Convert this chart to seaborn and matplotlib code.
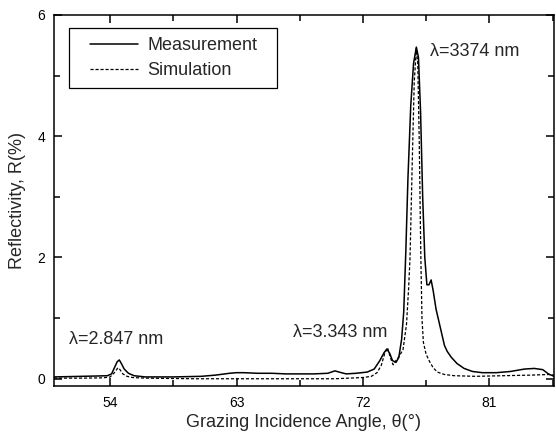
import matplotlib
matplotlib.use("Agg")
import matplotlib.pyplot as plt
import seaborn as sns
import pandas as pd
from matplotlib.ticker import MultipleLocator
from matplotlib.patches import Rectangle

# ---- data ----
meas_angle = [50.0, 51.0, 52.0, 53.0, 53.8, 54.1, 54.3, 54.5, 54.65, 54.8, 55.0, 55.3, 55.7,
              56.5, 57.5, 58.5, 59.5, 60.5, 61.5, 62.5, 63.0, 63.5, 64.5, 65.5, 66.5, 67.5,
              68.5, 69.5, 70.0, 70.3, 70.8, 71.5, 72.3, 72.8, 73.2, 73.5, 73.7, 73.9, 74.1,
              74.35, 74.55, 74.75, 74.9, 75.05, 75.2, 75.4, 75.6, 75.8, 75.95, 76.1, 76.25,
              76.4, 76.55, 76.7, 76.85, 77.0, 77.2, 77.4, 77.6, 77.8, 78.0, 78.3, 78.7, 79.2,
              79.8, 80.5, 81.5, 82.5, 83.5, 84.2, 84.8, 85.2, 85.6]
meas_refl = [0.03, 0.035, 0.04, 0.045, 0.05, 0.08, 0.18, 0.28, 0.31, 0.25, 0.16, 0.09, 0.05,
             0.03, 0.03, 0.03, 0.035, 0.04, 0.06, 0.09, 0.10, 0.10, 0.09, 0.09, 0.08, 0.08,
             0.08, 0.09, 0.13, 0.11, 0.08, 0.09, 0.11, 0.16, 0.30, 0.43, 0.49, 0.42, 0.30,
             0.27, 0.35, 0.65, 1.10, 2.10, 3.30, 4.50, 5.20, 5.47, 5.30, 4.40, 3.00,
             2.00, 1.55, 1.55, 1.63, 1.45, 1.15, 0.95, 0.75, 0.55, 0.45, 0.35, 0.25, 0.17,
             0.12, 0.10, 0.10, 0.12, 0.16, 0.17, 0.15, 0.08, 0.04]

sim_angle = [50.0, 52.0, 53.5, 54.0, 54.3, 54.55, 54.7, 54.9, 55.2, 55.6, 56.5, 60.0, 65.0,
             70.0, 72.0, 72.6, 73.0, 73.3, 73.55, 73.75, 73.95, 74.15, 74.35, 74.6, 74.85,
             75.1, 75.25, 75.35, 75.5, 75.65, 75.8, 75.9, 76.0, 76.12, 76.2, 76.3, 76.5,
             76.75, 77.0, 77.3, 77.8, 78.5, 80.0, 82.0, 84.0, 85.2, 85.6]
sim_refl = [0.01, 0.01, 0.015, 0.03, 0.10, 0.18, 0.15, 0.08, 0.04, 0.02, 0.01, 0.0, 0.0,
            0.0, 0.02, 0.04, 0.10, 0.22, 0.42, 0.51, 0.35, 0.23, 0.30, 0.38, 0.48,
            0.90, 1.50, 2.00, 3.50, 4.90, 5.45, 5.20, 4.00, 2.00, 1.00, 0.60, 0.40,
            0.28, 0.18, 0.11, 0.07, 0.05, 0.04, 0.05, 0.06, 0.07, 0.06]

labels = ["Measurement", "Simulation"]
annotations = [("λ=2.847 nm", 51.1, 0.64), ("λ=3.343 nm", 67.0, 0.76), ("λ=3374 nm", 76.76, 5.39)]
x_ticks = [54, 63, 72, 81]
y_ticks = [0, 2, 4, 6]

df_meas = pd.DataFrame({"angle": meas_angle, "R": meas_refl})
df_sim = pd.DataFrame({"angle": sim_angle, "R": sim_refl})

sns.set_style("ticks")
plt.rcParams["font.family"] = ["Liberation Sans", "DejaVu Sans"]

fig = plt.figure(figsize=(5.56, 4.33), dpi=100)
ax = fig.add_axes([0.0971, 0.1085, 0.8993, 0.8569])

DASH = (0, (2.5, 1.5))
sns.lineplot(data=df_meas, x="angle", y="R", ax=ax, color="black", linewidth=1.1,
             label=labels[0], estimator=None, sort=False)
sns.lineplot(data=df_sim, x="angle", y="R", ax=ax, color="black", linewidth=0.9,
             label=labels[1], estimator=None, sort=False)
ax.lines[1].set_linestyle(DASH)

ax.set_xlim(50, 85.6)
ax.set_ylim(-0.12, 6)
ax.set_xticks(x_ticks)
ax.set_yticks(y_ticks)
ax.xaxis.set_minor_locator(MultipleLocator(4.5))
ax.yaxis.set_minor_locator(MultipleLocator(1))
ax.tick_params(which="both", direction="in", top=True, right=True, labeltop=False,
               labelright=False, width=1.1, colors="black", labelsize=10)
ax.tick_params(which="major", length=6)
ax.tick_params(which="minor", length=4)
ax.tick_params(axis="x", which="major", pad=7)
ax.tick_params(axis="y", which="major", pad=6.5)
for s in ax.spines.values():
    s.set_linewidth(1.1)
    s.set_color("black")

ax.set_xlabel("Grazing Incidence Angle, θ(°)", fontsize=13, labelpad=3)
ax.set_ylabel("Reflectivity, R(%)", fontsize=13, labelpad=8)

for txt, x, y in annotations:
    ax.text(x, y, txt, fontsize=13, ha="left", va="center")

# legend: frame drawn as a box in axes coordinates
ax.add_patch(Rectangle((0.03, 0.803), 0.416, 0.162, transform=ax.transAxes,
                       facecolor="white", edgecolor="black", linewidth=0.9, zorder=4))
handles, labs = ax.get_legend_handles_labels()
handles[1].set_linestyle(DASH)
leg = ax.legend(handles, labs, loc="center left", bbox_to_anchor=(0.072, 0.884),
                borderaxespad=0, borderpad=0, fontsize=13, frameon=False,
                handlelength=2.66, labelspacing=0.45, handletextpad=0.5)
leg.set_zorder(5)

fig.savefig("out.png", dpi=100)
